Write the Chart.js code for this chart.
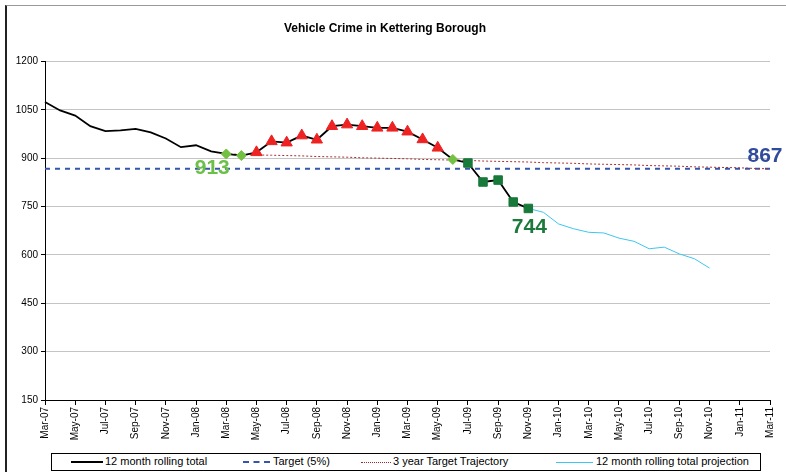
<!DOCTYPE html>
<html>
<head>
<meta charset="utf-8">
<script src="https://cdn.jsdelivr.net/npm/chart.js@4.4.1/dist/chart.umd.min.js"></script>
<style>
  body { margin: 0; background: #fff; font-family: "Liberation Sans", Arial, sans-serif; }
  #wrap { position: relative; width: 786px; height: 472px; overflow: hidden; }
  #frame { position: absolute; left: 5px; top: 5px; width: 800px; height: 480px;
           border-left: 2px solid #222; border-top: 1px solid #999; }
  #box { position: absolute; left: 0; top: 0; width: 786px; height: 445px; }
  #legend { position: absolute; left: 51px; top: 453px; width: 708px; height: 16px;
            border: 1px solid #000; font-size: 11px; color: #000; }
  #legend span { position: absolute; top: 1px; white-space: nowrap; }
  #legend i { position: absolute; top: 8px; height: 0; }
</style>
</head>
<body>
<div id="wrap">
  <div id="frame"></div>
  <div id="box"><canvas id="crimeChart" width="786" height="445"></canvas></div>
  <div id="legend">
    <i style="left:19px;width:32px;border-top:2px solid #000;top:7px"></i>
    <span style="left:53px">12 month rolling total</span>
    <i style="left:191px;width:27px;border-top:2px dashed #3355aa;top:7px"></i>
    <span style="left:221px">Target (5%)</span>
    <i style="left:309px;width:30px;border-top:1px dotted #a02828"></i>
    <span style="left:341px">3 year Target Trajectory</span>
    <i style="left:504px;width:37px;border-top:1px solid #3ec6f0"></i>
    <span style="left:544px">12 month rolling total projection</span>
  </div>
</div>
<script>
// Mar-07 .. Mar-11
const months = [
  'Mar-07','Apr-07','May-07','Jun-07','Jul-07','Aug-07','Sep-07','Oct-07','Nov-07','Dec-07','Jan-08','Feb-08',
  'Mar-08','Apr-08','May-08','Jun-08','Jul-08','Aug-08','Sep-08','Oct-08','Nov-08','Dec-08','Jan-09','Feb-09',
  'Mar-09','Apr-09','May-09','Jun-09','Jul-09','Aug-09','Sep-09','Oct-09','Nov-09','Dec-09','Jan-10','Feb-10',
  'Mar-10','Apr-10','May-10','Jun-10','Jul-10','Aug-10','Sep-10','Oct-10','Nov-10','Dec-10','Jan-11','Feb-11',
  'Mar-11'
];

// 12 month rolling total (Mar-07 .. Nov-09)
const rollingTotal = [
  1074, 1048, 1032, 999, 984, 986, 991, 980, 961, 934, 940, 921,
  913, 908, 918, 952, 948, 970, 957, 999, 1004, 999, 994, 994,
  982, 958, 932, 896, 885, 826, 832, 764, 744
];

// projection (Nov-09 .. Nov-10)
const projection = [744, 732, 696, 681, 670, 668, 652, 642, 619, 624, 603, 588, 559];

const target = 867;

// 3 year trajectory (Mar-08 .. Mar-11)
const trajectory = [
  913, 912, 910, 909, 908, 907, 905, 904, 903, 901,
  900, 899, 898, 896, 895, 894, 893, 891, 890, 889,
  888, 886, 885, 884, 882, 881, 880, 879, 877, 876,
  875, 873, 872, 871, 870, 868, 867
];

const yTicks = [150, 300, 450, 600, 750, 900, 1050, 1200];

// callouts: [month, value, text]
const callouts = [
  ['Mar-08', 913, '913'],
  ['Nov-09', 744, '744'],
  ['Mar-11', 867, '867']
];

// pad series out to the full month range
function place(values, startLabel) {
  const start = months.indexOf(startLabel);
  return months.map((m, i) => (i >= start && i < start + values.length) ? values[i - start] : null);
}

// marker look for the rolling total
function markerFor(i) {
  const m = months[i];
  if (m === 'Mar-08' || m === 'Apr-08' || m === 'Jun-09') return { style: 'rectRot', color: '#74c043', r: 5 };
  if (i >= months.indexOf('May-08') && i <= months.indexOf('May-09')) return { style: 'triangle', color: '#ee2222', r: 6.5 };
  if (i >= months.indexOf('Jul-09')) return { style: 'rect', color: '#17793a', r: 6 };
  return { style: 'circle', color: '#000', r: 0 };
}

const totalData = place(rollingTotal, 'Mar-07');
const markers = totalData.map((v, i) => markerFor(i));

const calloutPlugin = {
  id: 'callouts',
  afterDatasetsDraw(chart) {
    const { ctx, scales: { x, y } } = chart;
    const look = {
      '913': { dx: -14, dy: 14, color: '#6cbf47' },
      '744': { dx: 1, dy: 19, color: '#1c7a3c' },
      '867': { dx: -5, dy: -13, color: '#2f4c9c' }
    };
    ctx.save();
    ctx.font = 'bold 21px "Liberation Sans", Arial, sans-serif';
    ctx.textAlign = 'center';
    ctx.textBaseline = 'middle';
    callouts.forEach(([m, v, t]) => {
      const l = look[t];
      ctx.fillStyle = l.color;
      ctx.fillText(t, x.getPixelForValue(months.indexOf(m)) + l.dx, y.getPixelForValue(v) + l.dy);
    });
    ctx.restore();
  }
};

new Chart(document.getElementById('crimeChart'), {
  type: 'line',
  data: {
    labels: months,
    datasets: [
      {
        label: 'Target (5%)',
        data: months.map(() => target),
        borderColor: '#3355aa',
        borderWidth: 2,
        borderDash: [5, 5],
        pointRadius: 0,
        order: 3
      },
      {
        label: '3 year Target Trajectory',
        data: place(trajectory, 'Mar-08'),
        borderColor: '#a83030',
        borderWidth: 1,
        borderDash: [2, 2],
        pointRadius: 0,
        order: 2
      },
      {
        label: '12 month rolling total projection',
        data: place(projection, 'Nov-09'),
        borderColor: '#3ec6f0',
        borderWidth: 1,
        pointRadius: 0,
        order: 1
      },
      {
        label: '12 month rolling total',
        data: totalData,
        borderColor: '#000',
        borderWidth: 1.8,
        pointStyle: markers.map(k => k.style),
        pointRadius: markers.map(k => k.r),
        pointBackgroundColor: markers.map(k => k.color),
        pointBorderColor: markers.map(k => k.color),
        pointBorderWidth: 1,
        order: 0
      }
    ]
  },
  options: {
    responsive: false,
    animation: false,
    devicePixelRatio: 1,
    layout: { padding: { left: 0, right: 16, top: 0, bottom: 0 } },
    plugins: {
      legend: { display: false },
      tooltip: { enabled: false },
      title: {
        display: true,
        text: 'Vehicle Crime in Kettering Borough',
        color: '#000',
        font: { family: '"Liberation Sans", Arial, sans-serif', size: 12, weight: 'bold' },
        padding: { top: 21, bottom: 26 }
      }
    },
    scales: {
      x: {
        offset: false,
        border: { color: '#000', width: 1 },
        grid: {
          drawOnChartArea: false,
          tickLength: 5,
          tickColor: c => (c.index % 2 === 0 ? '#000' : 'rgba(0,0,0,0)')
        },
        ticks: {
          autoSkip: false,
          minRotation: 90,
          maxRotation: 90,
          padding: 2,
          color: '#000',
          font: { family: '"Liberation Sans", Arial, sans-serif', size: 10 },
          callback: (v, i) => (i % 2 === 0 ? months[i] : '')
        },
        afterFit: s => { s.height = 45; }
      },
      y: {
        min: 150,
        max: 1200,
        border: { color: '#000', width: 1 },
        grid: { color: '#c4c4c4', tickColor: '#000', tickLength: 4 },
        afterBuildTicks: s => { s.ticks = yTicks.map(v => ({ value: v })); },
        ticks: {
          autoSkip: false,
          color: '#000',
          padding: 3,
          font: { family: '"Liberation Sans", Arial, sans-serif', size: 10 },
          callback: v => String(v)
        },
        afterFit: s => { s.width = 45; }
      }
    }
  },
  plugins: [calloutPlugin]
});
</script>
</body>
</html>
